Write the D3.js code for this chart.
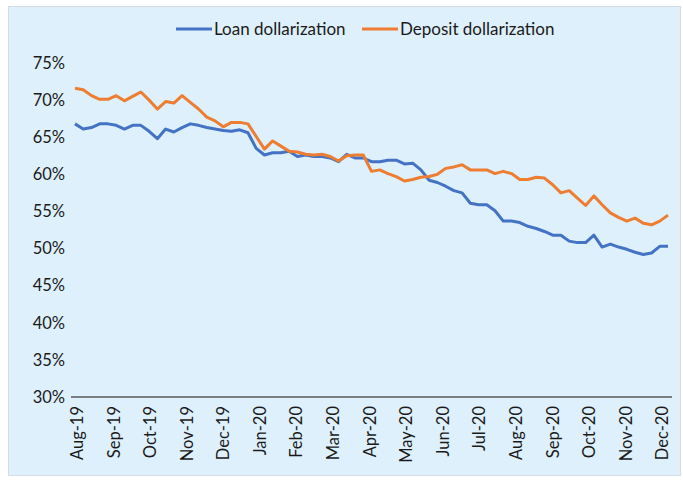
<!DOCTYPE html>
<html>
<head>
<meta charset="utf-8">
<script src="https://cdn.jsdelivr.net/npm/d3@7"></script>
<style>
  html, body { margin: 0; padding: 0; background: #fff; }
  svg { display: block; font-family: Lato, "Noto Sans", sans-serif; }
</style>
</head>
<body>
<div id="chart"></div>
<script>
// Month tick labels along the x axis
const monthLabels = ['Aug-19', 'Sep-19', 'Oct-19', 'Nov-19', 'Dec-19', 'Jan-20', 'Feb-20', 'Mar-20',
  'Apr-20', 'May-20', 'Jun-20', 'Jul-20', 'Aug-20', 'Sep-20', 'Oct-20', 'Nov-20', 'Dec-20'];

// y axis ticks (%)
const yTicks = [30, 35, 40, 45, 50, 55, 60, 65, 70, 75];

const loanDollarization = [
  66.8, 66.1, 66.3, 66.8, 66.8, 66.6, 66.1, 66.6, 66.6, 65.8,
  64.8, 66.1, 65.7, 66.3, 66.8, 66.6, 66.3, 66.1, 65.9, 65.8,
  66.0, 65.6, 63.5, 62.6, 62.9, 62.9, 63.1, 62.4, 62.6, 62.4,
  62.4, 62.2, 61.7, 62.7, 62.2, 62.2, 61.7, 61.7, 61.9, 61.9,
  61.4, 61.5, 60.6, 59.2, 58.9, 58.4, 57.8, 57.5, 56.1, 55.9,
  55.9, 55.1, 53.7, 53.7, 53.5, 53.0, 52.7, 52.3, 51.8, 51.8,
  51.0, 50.8, 50.8, 51.8, 50.2, 50.6, 50.2, 49.9, 49.5, 49.2,
  49.4, 50.3, 50.3
];
const depositDollarization = [
  71.6, 71.4, 70.6, 70.1, 70.1, 70.6, 69.9, 70.5, 71.1, 70.0,
  68.8, 69.8, 69.6, 70.6, 69.7, 68.8, 67.7, 67.2, 66.4, 67.0,
  67.0, 66.8, 65.1, 63.4, 64.5, 63.8, 63.1, 63.0, 62.7, 62.6,
  62.7, 62.4, 61.8, 62.5, 62.6, 62.6, 60.4, 60.6, 60.1, 59.7,
  59.1, 59.3, 59.6, 59.7, 60.0, 60.8, 61.0, 61.3, 60.6, 60.6,
  60.6, 60.1, 60.4, 60.1, 59.3, 59.3, 59.6, 59.5, 58.6, 57.5,
  57.8, 56.8, 55.8, 57.1, 55.9, 54.8, 54.2, 53.7, 54.1, 53.4,
  53.2, 53.7, 54.5
];

const seriesNames = ['Loan dollarization', 'Deposit dollarization'];
const seriesColors = ['#4472c4', '#ed7d31'];

const width = 683, height = 481;
const svg = d3.select('#chart').append('svg')
  .attr('width', width).attr('height', height);

// panel
svg.append('rect')
  .attr('x', 8.5).attr('y', 6.5).attr('width', 672).attr('height', 469)
  .attr('fill', '#def0fc').attr('stroke', '#d4dde4');

const plotLeft = 71, plotRight = 672;
const y = d3.scaleLinear().domain([30, 75]).range([397, 63]);
// points are evenly spaced; month labels on their own linear scale
const xPt = d3.scaleLinear().domain([0, loanDollarization.length - 1]).range([75, 668]);
const xMonth = d3.scaleLinear().domain([0, monthLabels.length - 1]).range([76.7, 662]);

// y axis labels (no axis line)
const yAxisG = svg.append('g').attr('transform', `translate(${plotLeft},0)`)
  .call(d3.axisLeft(y).tickValues(yTicks).tickSize(0).tickPadding(6).tickFormat(d => d + '%'));
yAxisG.select('.domain').remove();
yAxisG.selectAll('text')
  .attr('font-size', 16.5).attr('fill', '#1a1a1a').attr('font-family', 'Lato, sans-serif');

// x axis
svg.append('line')
  .attr('x1', plotLeft).attr('x2', plotRight)
  .attr('y1', y(30)).attr('y2', y(30))
  .attr('stroke', '#595959').attr('stroke-width', 1.3);

const xAxisG = svg.append('g').attr('transform', `translate(0,${y(30)})`)
  .call(d3.axisBottom(xMonth).tickValues(d3.range(monthLabels.length)).tickSize(0)
    .tickFormat(i => monthLabels[i]));
xAxisG.select('.domain').remove();
xAxisG.selectAll('text')
  .attr('font-size', 16.5).attr('fill', '#1a1a1a').attr('font-family', 'Lato, sans-serif')
  .attr('text-anchor', 'end')
  .attr('transform', 'rotate(-90)')
  .attr('x', -9).attr('y', 0).attr('dy', '0.35em');

// lines
const line = d3.line().x((d, i) => xPt(i)).y(d => y(d));
[loanDollarization, depositDollarization].forEach((vals, k) => {
  svg.append('path')
    .datum(vals)
    .attr('fill', 'none')
    .attr('stroke', seriesColors[k])
    .attr('stroke-width', 3)
    .attr('stroke-linejoin', 'round')
    .attr('d', line);
});

// legend
const legendX = [176, 362];
seriesNames.forEach((name, k) => {
  const lg = svg.append('g').attr('transform', `translate(${legendX[k]},29)`);
  lg.append('line').attr('x1', 0).attr('x2', 36).attr('y1', 0).attr('y2', 0)
    .attr('stroke', seriesColors[k]).attr('stroke-width', 3);
  lg.append('text').attr('x', 38).attr('y', 0).attr('dy', '0.35em')
    .attr('font-size', 17).attr('fill', '#1a1a1a')
    .text(name);
});
</script>
</body>
</html>
